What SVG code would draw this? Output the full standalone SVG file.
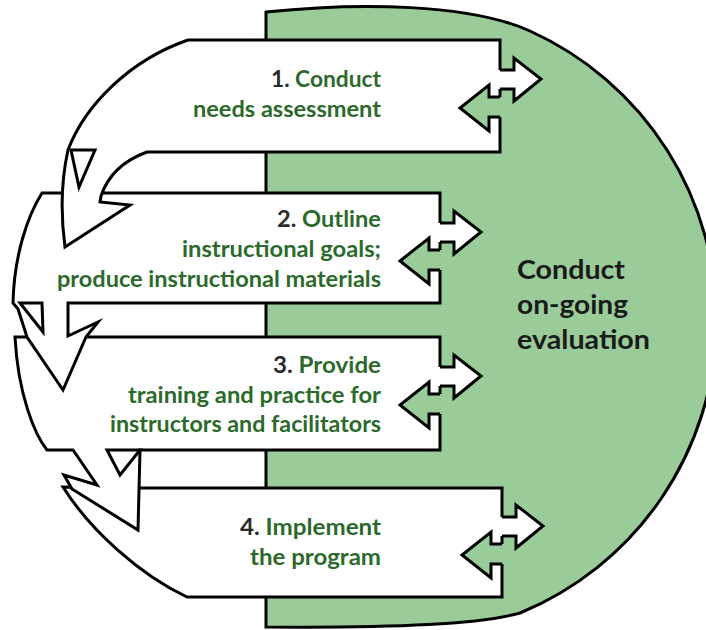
<svg xmlns="http://www.w3.org/2000/svg" width="706" height="630" viewBox="0 0 706 630">
<style>
.ln{stroke:#000;stroke-width:3;stroke-linejoin:miter;stroke-miterlimit:6}
.band{fill:#fff}
.evalfill{fill:#99cc99}
.out{fill:#fff;stroke:none}
.inn{fill:#99cc99;stroke:none}
.edge{fill:none}
.lbl{font-family:Lato,"Liberation Sans",sans-serif;font-weight:700;font-size:23px;fill:#2c6a2c;text-anchor:end}
.num{fill:#2a2a2a}
.ev{font-family:Lato,"Liberation Sans",sans-serif;font-weight:700;font-size:27px;fill:#1a1a1a}
</style>
<rect width="706" height="630" fill="#fff"/>
<g id="evaluation">
<path class="evalfill ln" d="M266,12 C360,2 470,4 530,31 A317,317 0 0 1 520,613 C480,624 400,628 266,627 Z"/>
<text class="ev" x="517" y="279" textLength="108" lengthAdjust="spacingAndGlyphs">Conduct</text>
<text class="ev" x="517" y="314" textLength="111" lengthAdjust="spacingAndGlyphs">on-going</text>
<text class="ev" x="517" y="349" textLength="133" lengthAdjust="spacingAndGlyphs">evaluation</text>
</g>
<g id="step4">
<path class="band ln" d="M63,487 L139,488 H502 V597 H187 C140,575 90,530 63,487 Z"/>
<text class="lbl" x="381" y="535" textLength="141" lengthAdjust="spacingAndGlyphs"><tspan class="num">4.</tspan> Implement</text>
<text class="lbl" x="381" y="565" textLength="131" lengthAdjust="spacingAndGlyphs">the program</text>
</g>
<g id="step3">
<path class="band ln" d="M15,337 H440 V450 H140 L138,530 L72,489 L64,475 L97,485 L73,450 L47,450 C35,435 18,395 15,337 Z"/>
<polygon class="band ln" points="107,450 140,450 120,475"/>
<text class="lbl" x="381" y="373" textLength="108" lengthAdjust="spacingAndGlyphs"><tspan class="num">3.</tspan> Provide</text>
<text class="lbl" x="381" y="403" textLength="253" lengthAdjust="spacingAndGlyphs">training and practice for</text>
<text class="lbl" x="381" y="432" textLength="271" lengthAdjust="spacingAndGlyphs">instructors and facilitators</text>
</g>
<g id="step2">
<path class="band ln" d="M42,193 H440 V303 H68 V336 L98,322 L86,337 L63,390 L27,337 L18,309 L13,303 C14,255 28,215 42,193 Z"/>
<polygon class="band ln" points="20,303 42,303 43,332"/>
<text class="lbl" x="381" y="227" textLength="104" lengthAdjust="spacingAndGlyphs"><tspan class="num">2.</tspan> Outline</text>
<text class="lbl" x="381" y="257" textLength="199" lengthAdjust="spacingAndGlyphs">instructional goals;</text>
<text class="lbl" x="381" y="287" textLength="324" lengthAdjust="spacingAndGlyphs">produce instructional materials</text>
</g>
<g id="step1">
<path class="band ln" d="M188,40 H500 V152 H147 C125,160 108,175 101,196 L100,202 L130,205 L65,247 Q58,195 68,150 C85,105 130,60 188,40 Z"/>
<polygon class="band ln" points="71,150 95,150 79,187"/>
<text class="lbl" x="381" y="87" textLength="110" lengthAdjust="spacingAndGlyphs"><tspan class="num">1.</tspan> Conduct</text>
<text class="lbl" x="381" y="117" textLength="188" lengthAdjust="spacingAndGlyphs">needs assessment</text>
</g>
<g id="connectors">
<polygon class="out" points="498,70 514,70 514,58 541,79 514,101 514,89 498,89"/>
<polyline class="edge ln" points="500,70 514,70 514,58 541,79 514,101 514,89 500,89"/>
<polygon class="inn" points="502,97 489,97 489,85 460,108 489,131 489,117 502,117"/>
<polyline class="edge ln" points="500,97 489,97 489,85 460,108 489,131 489,117 500,117"/>
<polygon class="out" points="438,223 454,223 454,211 481,232 454,254 454,242 438,242"/>
<polyline class="edge ln" points="440,223 454,223 454,211 481,232 454,254 454,242 440,242"/>
<polygon class="inn" points="442,250 429,250 429,238 400,261 429,284 429,270 442,270"/>
<polyline class="edge ln" points="440,250 429,250 429,238 400,261 429,284 429,270 440,270"/>
<polygon class="out" points="438,367 454,367 454,355 481,376 454,398 454,386 438,386"/>
<polyline class="edge ln" points="440,367 454,367 454,355 481,376 454,398 454,386 440,386"/>
<polygon class="inn" points="442,394 429,394 429,382 400,405 429,428 429,414 442,414"/>
<polyline class="edge ln" points="440,394 429,394 429,382 400,405 429,428 429,414 440,414"/>
<polygon class="out" points="500,517 516,517 516,505 543,526 516,548 516,536 500,536"/>
<polyline class="edge ln" points="502,517 516,517 516,505 543,526 516,548 516,536 502,536"/>
<polygon class="inn" points="504,544 491,544 491,532 462,555 491,578 491,564 504,564"/>
<polyline class="edge ln" points="502,544 491,544 491,532 462,555 491,578 491,564 502,564"/>
</g>
</svg>
